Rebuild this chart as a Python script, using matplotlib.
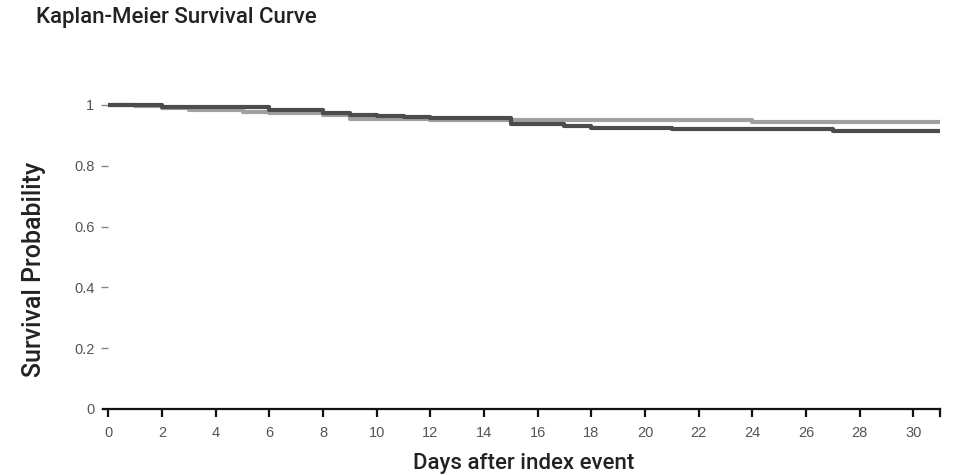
import matplotlib
matplotlib.use("Agg")
import matplotlib.pyplot as plt

plt.rcParams["font.family"] = ["Roboto", "DejaVu Sans"]

# --- data (step times in days, survival after each step) ---
dark_days = [0, 2, 6, 8, 9, 10, 11, 12, 14, 15, 17, 18, 21, 27, 31]
dark_surv = [1.0, 0.992, 0.983, 0.972, 0.967, 0.965, 0.962, 0.958, 0.956,
             0.939, 0.932, 0.925, 0.921, 0.915, 0.915]

light_days = [0, 1, 2, 3, 5, 6, 8, 9, 12, 24, 31]
light_surv = [1.0, 0.995, 0.990, 0.983, 0.976, 0.972, 0.966, 0.953, 0.950,
              0.943, 0.943]

x_ticks = list(range(0, 31, 2))
y_ticks = [0, 0.2, 0.4, 0.6, 0.8, 1]
y_tick_labels = ["0", "0.2", "0.4", "0.6", "0.8", "1"]

fig = plt.figure(figsize=(9.6, 4.75), dpi=100)
ax = fig.add_axes([0.1073, 0.139, 0.872, 0.640])

ax.step(light_days, light_surv, where="post", color="#a0a0a0", lw=3.0,
        solid_capstyle="butt", clip_on=False, zorder=3)
ax.step(dark_days, dark_surv, where="post", color="#4c4c4c", lw=3.0,
        solid_capstyle="butt", clip_on=False, zorder=4)

ax.set_xlim(-0.2, 31)
ax.set_ylim(0, 1)

for side in ["top", "right"]:
    ax.spines[side].set_visible(False)
# y axis sits at day 0 but its line is not drawn, only the small dashes
ax.spines["left"].set_position(("data", 0))
ax.spines["left"].set_color("none")
ax.spines["bottom"].set_linewidth(1.6)
ax.spines["bottom"].set_color("#111111")

ax.set_xticks(x_ticks)
ax.set_xticklabels([str(t) for t in x_ticks])
ax.set_yticks(y_ticks)
ax.set_yticklabels(y_tick_labels)
ax.tick_params(axis="x", direction="out", length=6, width=1.6, color="#111111",
               labelsize=10.5, labelcolor="#555555", pad=6)
ax.tick_params(axis="y", direction="out", length=5, width=1.0, color="#888888",
               labelsize=10.5, labelcolor="#555555", pad=5)
for lab in ax.get_xticklabels() + ax.get_yticklabels():
    lab.set_family(["Liberation Sans", "DejaVu Sans"])

# closing tick at the end of the axis
ax.plot([31, 31], [0, -0.022], color="#111111", lw=1.6, clip_on=False)

fig.text(0.545, 0.012, "Days after index event", ha="center", va="baseline",
         fontsize=16, fontweight="medium", color="#222222")
fig.text(0.035, 0.432, "Survival Probability", ha="center", va="center",
         rotation=90, fontsize=18, fontweight="medium", color="#222222")
fig.text(0.038, 0.963, "Kaplan-Meier Survival Curve", ha="left", va="center",
         fontsize=16, fontweight="medium", color="#222222")

fig.savefig("out.png", dpi=100)
